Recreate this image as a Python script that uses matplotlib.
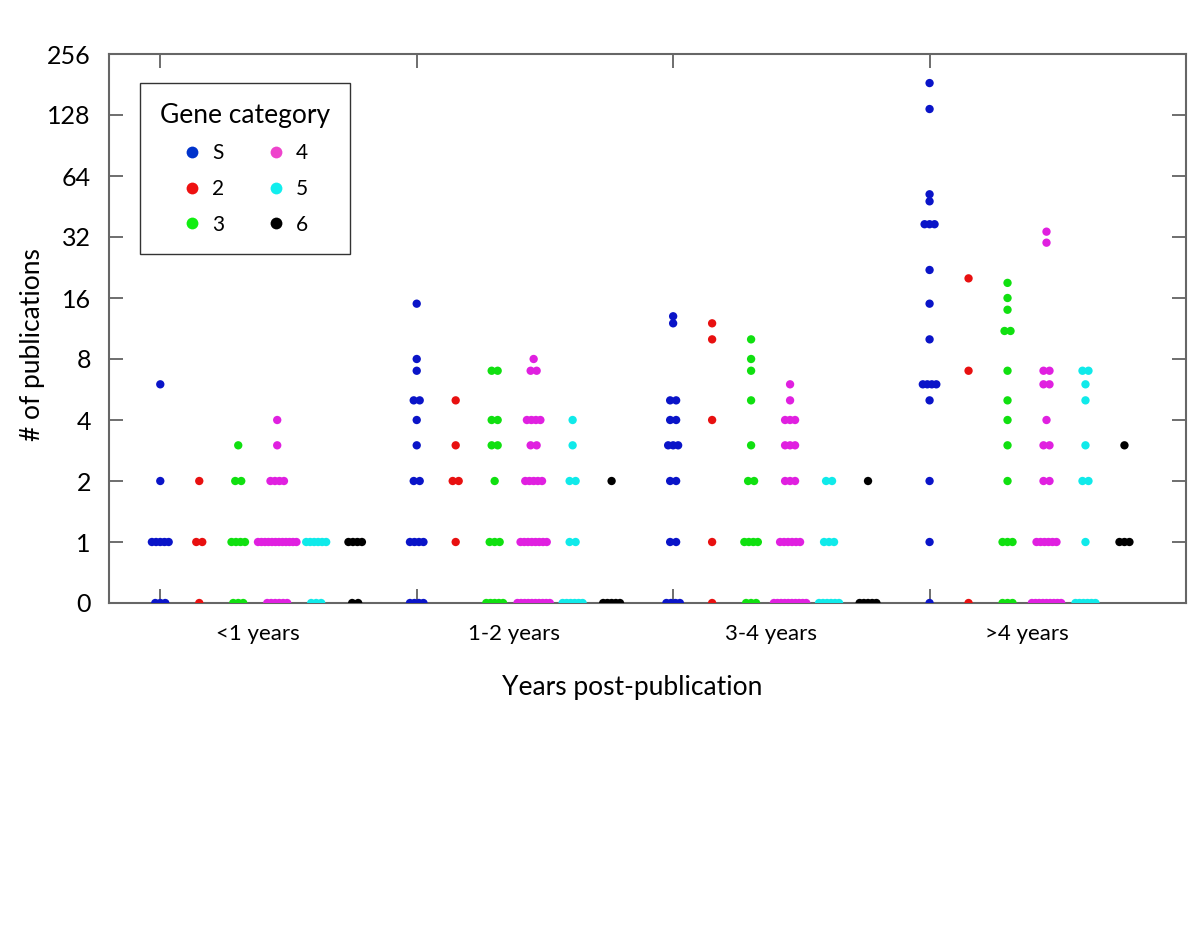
import numpy as np
import matplotlib
matplotlib.use("Agg")
import matplotlib.pyplot as plt
from matplotlib.lines import Line2D

plt.rcParams['font.family'] = ['Lato', 'DejaVu Sans']

# ---------------- data ----------------
groups = ["<1 years", "1-2 years", "3-4 years", ">4 years"]
categories = ["S", "2", "3", "4", "5", "6"]
colors = ["#0a14c8", "#e81010", "#10e010", "#e020e0", "#10eaea", "#000000"]

# values per category, one list per year group
vals_S = [
    [6, 2] + [1] * 5 + [0] * 3,
    [15, 8, 7, 5, 5, 4, 3, 2, 2] + [1] * 4 + [0] * 4,
    [13, 12, 5, 5, 4, 4, 3, 3, 3, 2, 2, 1, 1] + [0] * 4,
    [184, 137, 52, 48, 37, 37, 37, 22, 15, 10, 6, 6, 6, 6, 5, 2, 1, 0],
]
vals_2 = [
    [2, 1, 1, 0],
    [5, 3, 2, 2, 1],
    [12, 10, 4, 1, 0],
    [20, 7, 0],
]
vals_3 = [
    [3] + [2] * 2 + [1] * 4 + [0] * 3,
    [7, 7, 4, 4, 3, 3, 2] + [1] * 3 + [0] * 5,
    [10, 8, 7, 5, 3, 2, 2] + [1] * 4 + [0] * 3,
    [19, 16, 14, 11, 11, 7, 5, 4, 3, 2, 1, 1, 1, 0, 0, 0],
]
vals_4 = [
    [4, 3] + [2] * 4 + [1] * 12 + [0] * 6,
    [8, 7, 7] + [4] * 4 + [3, 3] + [2] * 5 + [1] * 8 + [0] * 10,
    [6, 5, 4, 4, 4, 3, 3, 3, 2, 2, 2] + [1] * 6 + [0] * 10,
    [34, 30, 7, 7, 6, 6, 4, 3, 3, 2, 2] + [1] * 6 + [0] * 9,
]
vals_5 = [
    [1] * 6 + [0] * 3,
    [4, 3, 2, 2, 1, 1] + [0] * 6,
    [2, 2] + [1] * 3 + [0] * 6,
    [7, 7, 6, 5, 3, 2, 2, 1] + [0] * 6,
]
vals_6 = [
    [1] * 4 + [0] * 2,
    [2] + [0] * 5,
    [2] + [0] * 5,
    [3, 1, 1, 1],
]
all_vals = [vals_S, vals_2, vals_3, vals_4, vals_5, vals_6]
y_ticks = [0, 1, 2, 4, 8, 16, 32, 64, 128, 256]

# ---------------- figure ----------------
fig = plt.figure(figsize=(12, 9.27), dpi=100)
ax = fig.add_axes([109 / 1200, 1 - 603 / 927, (1186 - 109) / 1200, (603 - 54) / 927])

cat_step = 0.152
px = 1 / 256.7  # one pixel in x data units

for ci, (cat, col, vlist) in enumerate(zip(categories, colors, all_vals)):
    for gi, vals in enumerate(vlist):
        base = gi + 1 + ci * cat_step
        xs, ys = [], []
        for v in sorted(set(vals), reverse=True):
            n = vals.count(v)
            step = (3 + 6 / n) * px
            for i in range(n):
                xs.append(base + (i - (n - 1) / 2) * step)
                ys.append(v)
        ax.scatter(xs, ys, s=36, color=col, edgecolors='none', zorder=3)

ax.set_yscale('symlog', base=2, linthresh=1, linscale=0.5)
ax.set_ylim(0, 256)
ax.set_xlim(0.8, 5.0)
ax.set_yticks(y_ticks)
ax.set_yticklabels([str(t) for t in y_ticks])
ax.yaxis.set_minor_locator(matplotlib.ticker.NullLocator())

ax.set_xticks([1, 2, 3, 4])
ax.set_xticklabels([])
ax.set_xticks([g + 1 + 2.5 * cat_step for g in range(4)], minor=True)
ax.set_xticklabels(groups, minor=True, fontsize=16)
ax.tick_params(axis='x', which='minor', length=0, pad=15)
ax.tick_params(axis='x', which='major', direction='in', length=10, width=1.2,
               top=True, bottom=True, color='#555555')
ax.tick_params(axis='y', which='major', direction='in', length=10, width=1.2,
               left=True, right=True, labelsize=18, pad=13, color='#555555')

for sp in ax.spines.values():
    sp.set_color('#666666')
    sp.set_linewidth(1.5)

ax.set_xlabel("Years post-publication", fontsize=19)
ax.xaxis.set_label_coords((632 - 109) / 1077, (603 - 688) / 549)
ax.xaxis.label.set_va('center')
ax.set_ylabel("# of publications", fontsize=19)
ax.yaxis.set_label_coords((33 - 109) / 1077, (603 - 345) / 549)
ax.yaxis.label.set_va('center')

leg_colors = ["#0033cc", "#ee1111", "#11ee11", "#ee44cc", "#11eeee", "#000000"]
handles = [Line2D([], [], marker='o', linestyle='none', markersize=8.5,
                  markerfacecolor=c, markeredgecolor='none', label=l)
           for c, l in zip(leg_colors, categories)]
leg = ax.legend(handles=handles, ncol=2, title="Gene category",
                loc='upper left', bbox_to_anchor=(31 / 1077, (603 - 83) / 549),
                fontsize=15, title_fontsize=19, frameon=True, fancybox=False,
                borderpad=0.95, handletextpad=0.45, columnspacing=2.0,
                labelspacing=0.75, handlelength=1.0, borderaxespad=0)
leg.get_frame().set_edgecolor('black')
leg.get_frame().set_linewidth(1.0)

fig.savefig("out.png", dpi=100)
